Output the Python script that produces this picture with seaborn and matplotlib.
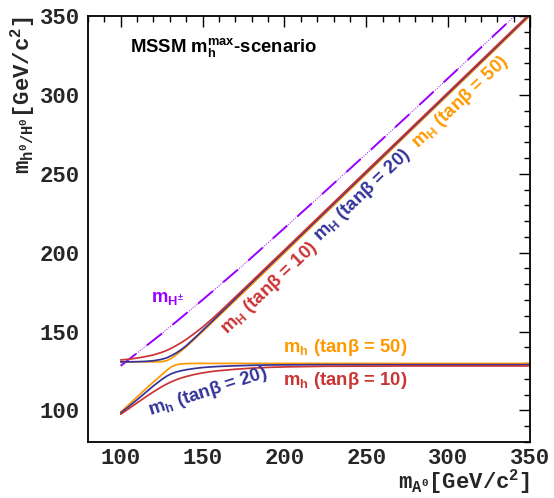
import matplotlib
matplotlib.use("Agg")
import matplotlib.pyplot as plt
import seaborn as sns
import pandas as pd
from matplotlib.ticker import MultipleLocator

# ---- data ----
mA = [100, 105, 110, 115, 120, 125, 128, 131, 134, 137, 140, 145, 150, 155, 160,
      170, 180, 190, 200, 225, 250, 275, 300, 325, 350]

mh_tb10 = [97.6, 101.2, 104.8, 108.4, 111.8, 115.0, 116.7, 118.2, 119.5, 120.6, 121.5,
           122.8, 123.8, 124.6, 125.2, 126.1, 126.8, 127.3, 127.6, 128.0, 128.1, 128.2,
           128.2, 128.2, 128.2]
mh_tb20 = [98.5, 102.5, 106.8, 111.2, 115.6, 119.6, 121.7, 123.3, 124.4, 125.2, 125.8,
           126.6, 127.2, 127.6, 127.9, 128.3, 128.6, 128.8, 128.9, 129.0, 129.0, 129.0,
           129.0, 129.0, 129.0]
mh_tb50 = [99.0, 103.8, 108.6, 113.4, 118.1, 122.6, 125.3, 127.7, 129.0, 129.5, 129.7,
           129.8, 129.8, 129.8, 129.8, 129.8, 129.8, 129.8, 129.8, 129.8, 129.8, 129.8,
           129.8, 129.8, 129.8]

mH_tb10 = [132.0, 132.5, 133.2, 134.1, 135.2, 136.8, 138.0, 139.5, 141.2, 143.0, 145.0,
           148.8, 152.8, 157.3, 162.0, 171.9, 181.8, 191.8, 201.7, 226.7, 251.7, 276.6,
           301.6, 326.6, 351.6]
mH_tb20 = [130.8, 130.8, 130.9, 131.1, 131.5, 132.4, 133.3, 134.8, 136.5, 138.6, 141.0,
           145.8, 150.7, 155.7, 160.7, 170.8, 180.9, 190.9, 200.9, 225.9, 250.9, 275.9,
           300.9, 325.9, 350.9]
mH_tb50 = [130.8, 130.8, 130.8, 130.8, 130.8, 130.9, 131.5, 133.1, 135.3, 137.8, 140.3,
           145.1, 150.0, 154.9, 159.9, 169.8, 179.8, 189.8, 199.8, 224.9, 249.9, 275.0,
           300.0, 325.0, 350.1]

mA_ch = [100, 125, 150, 175, 200, 225, 250, 275, 300, 325, 350]
mHch = [128.3, 148.6, 170.1, 192.3, 215.6, 239.0, 262.6, 286.5, 310.6, 334.8, 359.1]

series_names = ["mh10", "mh20", "mh50", "mH10", "mH20", "mH50"]
series_vals = [mh_tb10, mh_tb20, mh_tb50, mH_tb10, mH_tb20, mH_tb50]

RED, BLUE, ORANGE, PURPLE = "#cc3333", "#333399", "#ff9900", "#9900ff"
palette = {"mh10": RED, "mh20": BLUE, "mh50": ORANGE,
           "mH10": RED, "mH20": BLUE, "mH50": ORANGE}

df = pd.concat([pd.DataFrame({"mA": mA, "mass": v, "series": n})
                for n, v in zip(series_names, series_vals)], ignore_index=True)
df_ch = pd.DataFrame({"mA": mA_ch, "mass": mHch})

# ---- figure ----
sns.set_theme(style="white")
plt.rcParams["font.family"] = ["Liberation Sans", "DejaVu Sans"]
plt.rcParams["mathtext.default"] = "regular"

fig = plt.figure(figsize=(5.54, 4.98), dpi=100)
ax = fig.add_axes([88 / 554, 1 - 442 / 498, (530 - 88) / 554, (442 - 16) / 498])

# charged Higgs: thin dotted line + long dashes
sns.lineplot(data=df_ch, x="mA", y="mass", ax=ax, color=PURPLE, lw=0.7,
             linestyle=(0, (1, 1.5)), legend=False)
sns.lineplot(data=df_ch, x="mA", y="mass", ax=ax, color=PURPLE, lw=1.4,
             linestyle=(0, (10, 7)), legend=False)

for n in ["mH50", "mh50", "mH20", "mh20", "mH10", "mh10"]:
    sns.lineplot(data=df[df.series == n], x="mA", y="mass", ax=ax,
                 color=palette[n], lw=1.25, legend=False, sort=False)

ax.set_xlim(80, 350)
ax.set_ylim(80, 350)
ax.xaxis.set_major_locator(MultipleLocator(50))
ax.xaxis.set_minor_locator(MultipleLocator(10))
ax.yaxis.set_major_locator(MultipleLocator(50))
ax.yaxis.set_minor_locator(MultipleLocator(10))
ax.tick_params(which="both", direction="in", top=True, right=True, color="black",
               width=1.0)
ax.tick_params(which="major", length=8)
ax.tick_params(which="minor", length=4)
ax.tick_params(axis="x", which="major", pad=4)
ax.tick_params(axis="y", which="major", pad=6)
for lab in ax.get_xticklabels() + ax.get_yticklabels():
    lab.set_fontfamily("Liberation Mono")
    lab.set_fontweight("bold")
    lab.set_fontsize(16)
for sp in ax.spines.values():
    sp.set_color("black")
    sp.set_linewidth(1.3)

ax.set_xlabel(r"m$_{A^0}$[GeV/c$^2$]", loc="right",
              fontdict=dict(family="Liberation Mono", weight="bold", size=16),
              labelpad=-1)
ax.set_ylabel(r"m$_{h^0/H^0}$[GeV/c$^2$]", loc="top",
              fontdict=dict(family="Liberation Mono", weight="bold", size=16),
              labelpad=2)

bold = dict(weight="bold", family="Liberation Sans")
FS = 13.3
ax.text(105.5, 330.3, r"MSSM m$_h^{max}$-scenario", fontsize=13.3, ha="left",
        va="center", color="black", **bold)
ax.text(128.7, 170.8, r"m$_{H^{\pm}}$", fontsize=FS, ha="center", va="center",
        color=PURPLE, **bold)

rot = 43.5
ax.text(190.8, 177.5, r"m$_H$ (tan$\beta$ = 10)", fontsize=FS, color=RED,
        rotation=rot, rotation_mode="anchor", ha="center", va="center", **bold)
ax.text(247.6, 236.3, r"m$_H$ (tan$\beta$ = 20)", fontsize=FS, color=BLUE,
        rotation=rot, rotation_mode="anchor", ha="center", va="center", **bold)
ax.text(307.3, 295.4, r"m$_H$ (tan$\beta$ = 50)", fontsize=FS, color=ORANGE,
        rotation=rot, rotation_mode="anchor", ha="center", va="center", **bold)
ax.text(153.2, 111.5, r"m$_h$ (tan$\beta$ = 20)", fontsize=FS, color=BLUE,
        rotation=18, rotation_mode="anchor", ha="center", va="center", **bold)
ax.text(236.9, 139.7, r"m$_h$ (tan$\beta$ = 50)", fontsize=FS, color=ORANGE,
        ha="center", va="center", **bold)
ax.text(236.9, 118.7, r"m$_h$ (tan$\beta$ = 10)", fontsize=FS, color=RED,
        ha="center", va="center", **bold)

fig.savefig("out.png", dpi=100)
